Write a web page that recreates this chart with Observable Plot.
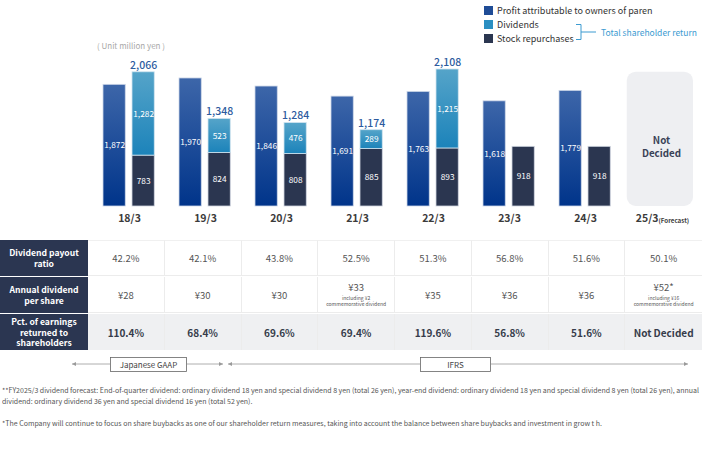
<!DOCTYPE html>
<html><head><meta charset="utf-8">
<script src="https://cdn.jsdelivr.net/npm/d3@7"></script>
<script src="https://cdn.jsdelivr.net/npm/@observablehq/plot@0.6"></script>
<style>
body{margin:0;background:#fff;font-family:"Noto Sans CJK JP","Noto Sans",sans-serif;}
#wrap{position:relative;width:702px;height:456px;overflow:hidden;}
.abs{position:absolute;white-space:nowrap;}
.leg{font-size:9px;color:#333;line-height:12px;}
.sw{position:absolute;width:9px;height:9px;}
.cell{position:absolute;box-sizing:border-box;display:flex;flex-direction:column;align-items:center;justify-content:center;text-align:center;}
.hd{background:#2b3651;color:#fff;font-weight:700;font-size:8.6px;line-height:10.8px;}
.note{font-size:7px;color:#555;line-height:9px;}
</style></head><body><div id="wrap"></div>
<script>
// ---- data ----
const years = ["18/3","19/3","20/3","21/3","22/3","23/3","24/3","25/3"];
const profit = [1872,1970,1846,1691,1763,1618,1779,null];
const dividends = [1282,523,476,289,1215,null,null,null];
const repurchases = [783,824,808,885,893,918,918,null];
const totals = [2066,1348,1284,1174,2108,null,null,null];
const payoutRatio = ["42.2%","42.1%","43.8%","52.5%","51.3%","56.8%","51.6%","50.1%"];
const dividendPerShare = ["¥28","¥30","¥30","¥33","¥35","¥36","¥36","¥52*"];
const dpsNotes = ["","","","including ¥2|commemorative dividend","","","","including ¥16|commemorative dividend"];
const returnPct = ["110.4%","68.4%","69.6%","69.4%","119.6%","56.8%","51.6%","Not Decided"];
const rowHeaders = ["Dividend payout|ratio","Annual dividend|per share","Pct. of earnings|returned to|shareholders"];
const legendLabels = ["Profit attributable to owners of paren"," Dividends","Stock repurchases"];
const forecastYear = "25/3";

// ---- derived rows ----
const FONT = "'Noto Sans CJK JP', 'Noto Sans', sans-serif";
const fmt = d3.format(",");
const rowsProfit = years.map((y,i)=>({year:y,value:profit[i]})).filter(d=>d.value!=null);
const rowsStock = years.map((y,i)=>({year:y,y1:0,y2:repurchases[i],value:repurchases[i]})).filter(d=>d.value!=null);
const rowsDiv = years.map((y,i)=>({year:y,y1:repurchases[i],y2:repurchases[i]+(dividends[i]||0),value:dividends[i]})).filter(d=>d.value!=null);
const rowsTotal = years.map((y,i)=>({year:y,value:totals[i]})).filter(d=>d.value!=null);
const rowsForecast = [{year:forecastYear,value:totals[0]}];

const W = 702, ML = 88;
const band = (W-ML)/years.length;

const defs = () => {
  const d = d3.create("svg:defs");
  const g1 = d.append("linearGradient").attr("id","gP").attr("x1",0).attr("y1",0).attr("x2",0).attr("y2",1);
  g1.append("stop").attr("offset","0%").attr("stop-color","#3d66a9");
  g1.append("stop").attr("offset","100%").attr("stop-color","#00348a");
  const g2 = d.append("linearGradient").attr("id","gD").attr("x1",0).attr("y1",0).attr("x2",0).attr("y2",1);
  g2.append("stop").attr("offset","0%").attr("stop-color","#55a4c9");
  g2.append("stop").attr("offset","100%").attr("stop-color","#1c83ba");
  return d.node();
};

const bar1 = {insetLeft:12, insetRight:band-35};
const bar2 = {insetLeft:41, insetRight:band-64};
const dx1 = 23.5 - band/2, dx2 = 52.5 - band/2;

const chart = Plot.plot({
  width: W, height: 232, marginLeft: ML, marginRight: 0, marginTop: 69, marginBottom: 26,
  x: {type:"band", domain: years, padding: 0, axis: null},
  y: {domain:[0, d3.max(totals)], axis: null},
  style: {fontFamily:FONT, background:"transparent", overflow:"visible"},
  marks: [
    defs,
    Plot.barY(rowsForecast, {x:"year", y1:0, y2:"value", insetLeft:3.75, insetRight:6, rx:9, fill:"#eeeff2"}),
    Plot.text(rowsForecast, {x:"year", y:d=>d.value/2, dy:7, text:()=>"Not\nDecided", fontWeight:700, fontSize:9.8, lineHeight:1.3, fill:"#3a4257"}),
    Plot.barY(rowsProfit, {x:"year", y:"value", ...bar1, fill:"url(#gP)", stroke:"#cdd7e8", strokeWidth:0.8}),
    Plot.barY(rowsStock, {x:"year", y1:"y1", y2:"y2", ...bar2, fill:"#2b3650", stroke:"#cfd5df", strokeWidth:0.8}),
    Plot.barY(rowsDiv, {x:"year", y1:"y1", y2:"y2", ...bar2, fill:"url(#gD)", stroke:"#cfe3ef", strokeWidth:0.8}),
    Plot.text(rowsProfit, {x:"year", y:d=>d.value/2, dx:dx1, text:d=>fmt(d.value), fill:"#fff", fontSize:8.3}),
    Plot.text(rowsStock, {x:"year", y:d=>(d.y1+d.y2)/2, dx:dx2, text:d=>fmt(d.value), fill:"#fff", fontSize:8.3}),
    Plot.text(rowsDiv, {x:"year", y:d=>(d.y1+d.y2)/2, dx:dx2, text:d=>fmt(d.value), fill:"#fff", fontSize:8.3}),
    Plot.text(rowsTotal, {x:"year", y:"value", dy:-7, dx:dx2, text:d=>fmt(d.value), fill:"#2d5b9e", fontSize:10.5, fontWeight:500}),
    Plot.text(years.filter(y=>y!==forecastYear), {x:d=>d, frameAnchor:"bottom", dy:15, text:d=>d, fontWeight:700, fontSize:10.5, fill:"#3b3b3b"}),
    Plot.text([forecastYear], {x:d=>d, frameAnchor:"bottom", dy:15, dx:-3, textAnchor:"end", text:d=>d, fontWeight:700, fontSize:10.5, fill:"#3b3b3b"}),
    Plot.text([forecastYear], {x:d=>d, frameAnchor:"bottom", dy:16, dx:-3, textAnchor:"start", text:()=>"(Forecast)", fontWeight:700, fontSize:6.2, fill:"#3b3b3b"})
  ]
});
chart.style.position = "absolute"; chart.style.left = "0px"; chart.style.top = "0px";
const wrap = document.getElementById("wrap");
wrap.appendChild(chart);

// ---- legend ----
const legColors = ["#1f4c96","#2b8fc2","#2b3650"];
legendLabels.forEach((t,i)=>{
  const s = document.createElement("div"); s.className="sw";
  s.style.left="484px"; s.style.top=(6+14*i)+"px"; s.style.background=legColors[i];
  wrap.appendChild(s);
  const l = document.createElement("div"); l.className="abs leg";
  l.style.left="497px"; l.style.top=(4.5+14*i)+"px"; l.textContent=t;
  wrap.appendChild(l);
});
const br = document.createElementNS("http://www.w3.org/2000/svg","svg");
br.setAttribute("width",30); br.setAttribute("height",30);
br.style.position="absolute"; br.style.left="570px"; br.style.top="18px";
br.innerHTML = '<path d="M6,6.5 H11 V21.5 H6 M11,14 H26" fill="none" stroke="#3c9bd1" stroke-width="1"/>';
wrap.appendChild(br);
const tsr = document.createElement("div"); tsr.className="abs";
tsr.style.cssText += "left:601px;top:26px;font-size:8.5px;color:#3c9bd1;line-height:12px;";
tsr.textContent = "Total shareholder return"; wrap.appendChild(tsr);
const unit = document.createElement("div"); unit.className="abs";
unit.style.cssText += "left:97px;top:41px;font-size:8px;color:#a8a8a8;line-height:10px;";
unit.textContent = "( Unit million yen )"; wrap.appendChild(unit);
// keep the label inside the page
const tw = tsr.getBoundingClientRect().width;
if (601 + tw > 701) tsr.style.transform = `scaleX(${100/tw})`, tsr.style.transformOrigin = "0 0";

// ---- table ----
const rowTop = [240,277,314], rowH = 36;
const rows = [payoutRatio, dividendPerShare, returnPct];
rowHeaders.forEach((h,r)=>{
  const c = document.createElement("div"); c.className="cell hd";
  c.style.left="0px"; c.style.top=rowTop[r]+"px"; c.style.width=ML+"px"; c.style.height=rowH+"px";
  c.innerHTML = h.split("|").join("<br>");
  wrap.appendChild(c);
  rows[r].forEach((v,i)=>{
    const d = document.createElement("div"); d.className="cell";
    d.style.left=(ML+band*i)+"px"; d.style.top=rowTop[r]+"px"; d.style.width=band+"px"; d.style.height=rowH+"px";
    d.style.borderRight = i<years.length-1 ? "1px solid #ececec" : "none";
    if (r===0) d.style.borderTop="1px solid #f0f0f0";
    d.style.borderBottom = r<2 ? "1px solid #ececec" : "none";
    if (r===2) { d.style.background="#eff0f2"; d.style.fontWeight="700"; d.style.fontSize="10px"; d.style.color="#363c4a"; }
    else { d.style.fontSize="9.5px"; d.style.color="#555"; }
    if (r===1 && dpsNotes[i]) {
      d.innerHTML = '<div style="line-height:12px;margin-top:-2px">'+v+'</div><div style="font-size:5px;line-height:5.5px;color:#555;margin-top:2px">'+dpsNotes[i].split("|").join("<br>")+'</div>';
    } else d.textContent = v;
    wrap.appendChild(d);
  });
});

// ---- accounting standard arrows ----
const ar = document.createElementNS("http://www.w3.org/2000/svg","svg");
ar.setAttribute("width",702); ar.setAttribute("height",24);
ar.style.position="absolute"; ar.style.left="0px"; ar.style.top="352px";
ar.innerHTML = `
<g stroke="#9a9a9a" stroke-width="0.8" fill="none">
<path d="M72,12 H110 M187,12 H223 M228,12 H420 M491,12 H688"/>
</g>
<g fill="#9a9a9a">
<path d="M72,12 l4,-2 v4 z"/><path d="M223,12 l-4,-2 v4 z"/><path d="M228,12 l4,-2 v4 z"/><path d="M688,12 l-4,-2 v4 z"/>
</g>
<rect x="110.5" y="5.5" width="76" height="14" fill="#fff" stroke="#666" stroke-width="0.8"/>
<rect x="420.5" y="5.5" width="70" height="14" fill="#fff" stroke="#666" stroke-width="0.8"/>
<text x="148.5" y="15.5" text-anchor="middle" font-size="8" fill="#444" font-family="Noto Sans CJK JP">Japanese GAAP</text>
<text x="455.5" y="15.5" text-anchor="middle" font-size="8" fill="#444" font-family="Noto Sans CJK JP">IFRS</text>`;
wrap.appendChild(ar);

// ---- footnotes ----
const notes = [
  ["**FY2025/3 dividend forecast: End-of-quarter dividend: ordinary dividend 18 yen and special dividend 8 yen (total 26 yen), year-end dividend: ordinary dividend 18 yen and special dividend 8 yen (total 26 yen), annual", 386, 697],
  ["dividend: ordinary dividend 36 yen and special dividend 16 yen (total 52 yen).", 397, 0],
  ["*The Company will continue to focus on share buybacks as one of our shareholder return measures, taking into account the balance between share buybacks and investment in grow t h.", 419, 600]
];
const els = notes.map(([t,top,target])=>{
  const n = document.createElement("div"); n.className="abs note";
  n.style.left="2px"; n.style.top=top+"px"; n.style.transformOrigin="0 0";
  n.textContent=t; wrap.appendChild(n); return [n,target];
});
const sx = els[0][1] / els[0][0].getBoundingClientRect().width;
els.forEach(([n,target])=>{
  const s = target ? target / n.getBoundingClientRect().width : sx;
  n.style.transform = `scaleX(${s})`;
});
</script></body></html>
